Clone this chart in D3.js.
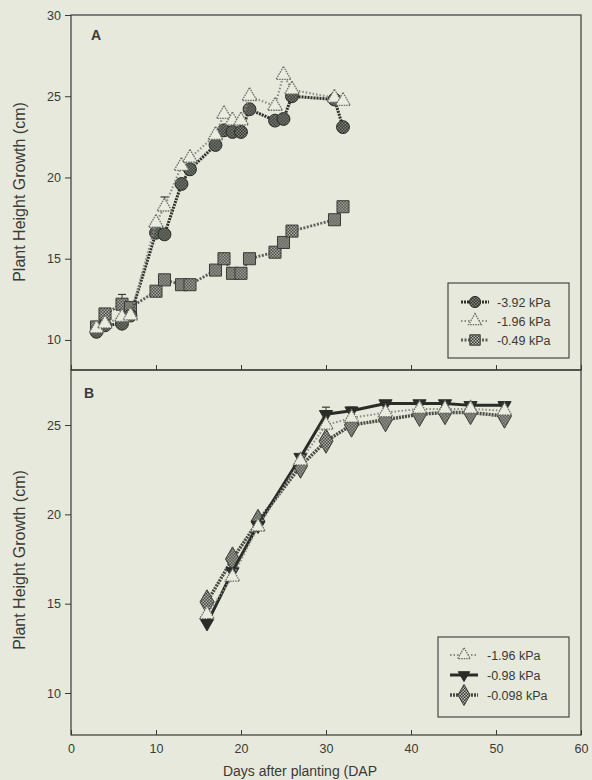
<!DOCTYPE html>
<html><head><meta charset="utf-8">
<script src="https://cdn.jsdelivr.net/npm/d3@7"></script>
<style>
html,body{margin:0;padding:0;background:#e6e9db;}
svg{display:block;}
text{font-family:"Liberation Sans",Arial,sans-serif;fill:#3a3a36;}
</style></head><body>
<svg id="chart" width="592" height="780"></svg>
<script>
// ---- Data ----
const xTicks = [0,10,20,30,40,50,60];
const yTicksA = [10,15,20,25,30];
const yTicksB = [10,15,20,25];

// Panel A
const daysA = [3,4,6,7,10,11,13,14,17,18,19,20,21,24,25,26,31,32];
const a_392 = [10.5,10.9,11.0,11.5,16.6,16.5,19.6,20.5,22.0,22.9,22.8,22.8,24.2,23.5,23.6,25.0,24.8,23.1];
const a_196 = [10.7,11.0,11.4,11.5,17.2,18.2,20.7,21.2,22.6,23.9,23.5,23.5,25.0,24.4,26.3,25.4,24.9,24.7];
const a_049 = [10.8,11.6,12.2,12.0,13.0,13.7,13.4,13.4,14.3,15.0,14.1,14.1,15.0,15.4,16.0,16.7,17.4,18.2];
const labelsA = ["-3.92 kPa","-1.96 kPa","-0.49 kPa"];

// Panel B
const daysB = [16,19,22,27,30,33,37,41,44,47,51];
const b_196 = [14.4,16.5,19.3,23.0,25.0,25.4,25.7,25.9,25.9,25.9,25.8];
const b_098 = [13.9,16.8,19.4,23.2,25.6,25.8,26.2,26.2,26.2,26.1,26.1];
const b_0098 = [15.1,17.5,19.6,22.7,24.1,25.0,25.3,25.6,25.7,25.7,25.5];
const labelsB = ["-1.96 kPa","-0.98 kPa","-0.098 kPa"];

// error bar tops (day, value, cap)
const errA = [{x:6, v:12.2, e:12.8},{x:11, v:18.2, e:18.8}];
const errB = [{x:30, v:25.0, e:26.0},{x:33, v:25.8, e:26.0},{x:16, v:14.4, e:14.9}];

// ---- Drawing ----
const svg = d3.select("#chart");
const defs = svg.append("defs");
function checker(id, c1, c2, s){
  const p = defs.append("pattern").attr("id",id).attr("width",s*2).attr("height",s*2)
    .attr("patternUnits","userSpaceOnUse");
  p.append("rect").attr("width",s*2).attr("height",s*2).attr("fill",c1);
  p.append("rect").attr("width",s).attr("height",s).attr("fill",c2);
  p.append("rect").attr("x",s).attr("y",s).attr("width",s).attr("height",s).attr("fill",c2);
}
checker("patDark","#2c2e2a","#8a8c84",1.5);
checker("patMid","#3a3c37","#b9bcb0",1.5);

const L = 71, R = 581, BOT = 735;
const x = d3.scaleLinear().domain([0,60]).range([L,R]);
const yA = d3.scaleLinear().domain([8.15,30]).range([370,15]);
const yB = d3.scaleLinear().domain([7.65,28.08]).range([BOT,370]);
const ink = "#3a3a36";

function frame(y, top, bottom, ticks, showX){
  const g = svg.append("g");
  g.append("rect").attr("x",L).attr("y",top).attr("width",R-L).attr("height",bottom-top)
    .attr("fill","none").attr("stroke",ink).attr("stroke-width",1.2);
  const ya = d3.axisLeft(y).tickValues(ticks).tickSize(6).tickPadding(4).tickFormat(d3.format("d"));
  const gy = g.append("g").attr("transform",`translate(${L},0)`).call(ya);
  gy.select(".domain").remove();
  gy.selectAll("line").attr("stroke",ink);
  gy.selectAll("text").attr("font-size",12.5).style("fill","#3a3a36");
  const xa = d3.axisBottom(x).tickValues(xTicks).tickSize(-5).tickPadding(showX?9:0)
    .tickFormat(showX ? d3.format("d") : "");
  const gx = g.append("g").attr("transform",`translate(0,${bottom})`).call(xa);
  gx.select(".domain").remove();
  gx.selectAll("line").attr("stroke",ink);
  gx.selectAll("text").attr("font-size",12.5).style("fill","#3a3a36");
}
frame(yA,15,370,yTicksA,false);
frame(yB,370,BOT,yTicksB,true);

function markerPath(type, size){
  const sym = {circle:d3.symbolCircle, triangle:d3.symbolTriangle, square:d3.symbolSquare,
               diamond:d3.symbolDiamond, down:d3.symbolTriangle}[type];
  return d3.symbol().type(sym).size(size)();
}
const styles = {
  a392:{marker:"circle", size:130, fill:"url(#patDark)", stroke:"#2a2c28", sw:1,
        line:"#2f312d", lw:3, dash:"2,1"},
  a196:{marker:"triangle", size:95, fill:"#e9ecdf", stroke:"#6a6c66", sw:1.3, mdash:"1.5,1",
        line:"#8a8c86", lw:2.2, dash:"1.5,2"},
  a049:{marker:"square", size:145, fill:"url(#patMid)", stroke:"#3a3c37", sw:1,
        line:"#5e605a", lw:2.8, dash:"2,1.5"},
  b196:{marker:"triangle", size:90, fill:"#e9ecdf", stroke:"#6a6c66", sw:1.3, mdash:"1.5,1",
        line:"#8a8c86", lw:2, dash:"1.5,2"},
  b098:{marker:"down", size:75, fill:"#2a2c28", stroke:"#2a2c28", sw:1,
        line:"#2a2c28", lw:3, dash:null},
  b0098:{marker:"diamond", size:170, fill:"url(#patMid)", stroke:"#3a3c37", sw:1,
        line:"#4a4c46", lw:3.4, dash:"2,1"}
};

function series(days, vals, y, st){
  const g = svg.append("g");
  const line = d3.line().x((d,i)=>x(days[i])).y(d=>y(d));
  g.append("path").datum(vals).attr("d",line).attr("fill","none")
    .attr("stroke",st.line).attr("stroke-width",st.lw)
    .attr("stroke-dasharray",st.dash).attr("stroke-linejoin","round");
  g.selectAll("path.m").data(vals).join("path").attr("class","m")
    .attr("d",markerPath(st.marker,st.size))
    .attr("transform",(d,i)=>`translate(${x(days[i])},${y(d)})${st.marker==="down"?" rotate(180)":""}`)
    .attr("fill",st.fill).attr("stroke",st.stroke).attr("stroke-width",st.sw)
    .attr("stroke-dasharray",st.mdash||null);
}
function errbars(list, y){
  const g = svg.append("g");
  list.forEach(e=>{
    g.append("line").attr("x1",x(e.x)).attr("x2",x(e.x)).attr("y1",y(e.v)).attr("y2",y(e.e))
      .attr("stroke",ink).attr("stroke-width",1);
    g.append("line").attr("x1",x(e.x)-4).attr("x2",x(e.x)+4).attr("y1",y(e.e)).attr("y2",y(e.e))
      .attr("stroke",ink).attr("stroke-width",1.2);
  });
}
errbars(errA,yA);
series(daysA,a_049,yA,styles.a049);
series(daysA,a_392,yA,styles.a392);
series(daysA,a_196,yA,styles.a196);
errbars(errB,yB);
series(daysB,b_0098,yB,styles.b0098);
series(daysB,b_098,yB,styles.b098);
series(daysB,b_196,yB,styles.b196);

// panel letters
svg.append("text").attr("x",91).attr("y",40).attr("font-size",14).attr("font-weight","bold").text("A");
svg.append("text").attr("x",84).attr("y",398).attr("font-size",14).attr("font-weight","bold").text("B");

// legends
function legend(x0,y0,w,h,rows,labels,sts,symX,textX,rowGap){
  const g = svg.append("g");
  g.append("rect").attr("x",x0).attr("y",y0).attr("width",w).attr("height",h)
    .attr("fill","none").attr("stroke",ink).attr("stroke-width",1.1);
  labels.forEach((lab,i)=>{
    const cy = rows + i*rowGap, st = sts[i];
    g.append("line").attr("x1",symX-14).attr("x2",symX+14).attr("y1",cy).attr("y2",cy)
      .attr("stroke",st.line).attr("stroke-width",st.lw).attr("stroke-dasharray",st.dash);
    g.append("path").attr("d",markerPath(st.marker,st.size*0.75))
      .attr("transform",`translate(${symX},${cy})${st.marker==="down"?" rotate(180)":""}`)
      .attr("fill",st.fill).attr("stroke",st.stroke).attr("stroke-width",st.sw)
      .attr("stroke-dasharray",st.mdash||null);
    g.append("text").attr("x",textX).attr("y",cy+4.5).attr("font-size",12.5).text(lab);
  });
}
legend(448,283,121,75,302,labelsA,[styles.a392,styles.a196,styles.a049],475,497,19);
legend(438,637,131,80,655,labelsB,[styles.b196,styles.b098,styles.b0098],464,487,20);

// axis titles
svg.append("text").attr("transform","translate(25,192) rotate(-90)").attr("text-anchor","middle")
  .attr("font-size",16).text("Plant Height Growth (cm)");
svg.append("text").attr("transform","translate(25,560) rotate(-90)").attr("text-anchor","middle")
  .attr("font-size",16).text("Plant Height Growth (cm)");
svg.append("text").attr("x",300).attr("y",776).attr("text-anchor","middle")
  .attr("font-size",14).text("Days after planting (DAP");
</script></body></html>
